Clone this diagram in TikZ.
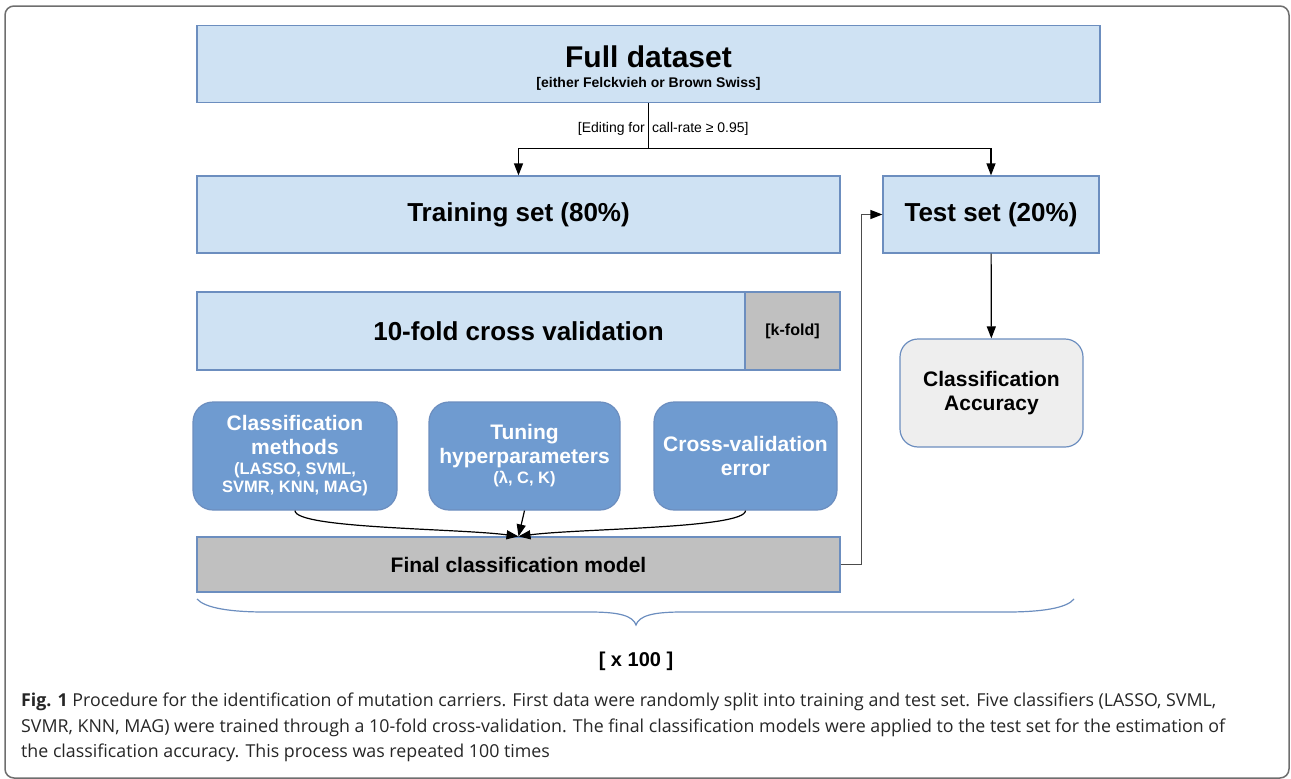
\documentclass[tikz,border=0pt]{standalone}
\usepackage{fontspec}
\setmainfont{Liberation Sans}
\newfontfamily\capfont{Open Sans}
\usetikzlibrary{positioning,arrows.meta}

\definecolor{boxblue}{HTML}{CFE2F3}
\definecolor{edgeblue}{HTML}{6C8EBF}
\definecolor{midblue}{HTML}{6F9BD0}
\definecolor{boxgray}{HTML}{C0C0C0}
\definecolor{accgray}{HTML}{EEEEEE}
\definecolor{framegray}{HTML}{6E6E6E}
\newcommand{\fsz}[2]{\fontsize{#1}{#2}\selectfont}

\begin{document}
\begin{tikzpicture}[x=1pt,y=-1pt,
  box/.style={draw=edgeblue,fill=boxblue,line width=1.2pt,inner sep=0pt,align=center,font=\bfseries\fsz{26}{30}},
  method/.style={draw=edgeblue,fill=midblue,rounded corners=20pt,line width=1.2pt,minimum height=108pt,inner sep=0pt,align=center,text=white,font=\bfseries\fsz{21}{24}},
  line/.style={line width=1.2pt,->,>={Triangle[length=12pt,width=9pt]}},
  captext/.style={anchor=base west,inner sep=0pt,font=\capfont\fsz{17.8}{20},text=black!85}]
\useasboundingbox (0,0) rectangle (1291,779);
\draw[framegray,line width=1.5pt,rounded corners=9pt] (5,6) rectangle (1289,778);

% boxes
\node[box,minimum width=903pt,minimum height=77pt] (full) at (648.5,64) {};
\node[anchor=base,font=\bfseries\fsz{30}{30}] (fulltitle) at (648.5,67) {Full dataset};
\node[anchor=base,font=\bfseries\fsz{14}{14}] (fullsub) at (648.5,87) {[either Felckvieh or Brown Swiss]};
\node[box,minimum width=643pt,minimum height=77pt] (train) at (518.5,214.5) {Training set (80\%)};
\node[box,minimum width=216pt,minimum height=77pt] (test) at (991,214.5) {Test set (20\%)};
\node[box,minimum width=643pt,minimum height=78pt] (cv) at (518.5,331) {10-fold cross validation};
\node[box,fill=boxgray,minimum width=95pt,minimum height=78pt,font=\bfseries\fsz{16}{16}] (kfold) at (792.5,331) {[k-fold]};
\node[method,minimum width=204pt] (methods) at (295,456) {Classification\\methods\\[-4pt]\fsz{16.5}{18}(LASSO, SVML,\\[-6pt]\fsz{16.5}{18}SVMR, KNN, MAG)};
\node[method,minimum width=191pt] (tuning) at (524.5,456) {Tuning\\hyperparameters\\[-4pt]\fsz{16.5}{18}(λ, C, K)};
\node[method,minimum width=183pt] (cverr) at (745.5,456) {Cross-validation\\error};
\node[box,fill=boxgray,minimum width=643pt,minimum height=55pt,font=\bfseries\fsz{21}{24}] (final) at (518.5,564.5) {Final classification model};
\node[box,fill=accgray,rounded corners=18pt,minimum width=183pt,minimum height=108pt,font=\bfseries\fsz{21}{24}] (acc) at (991.5,393) {Classification\\Accuracy};

% split
\draw[line] (full.south) -- ++(0,45) -| (train.north);
\draw[line] (full.south) -- ++(0,45) -| (test.north);
\node[anchor=base east,inner sep=0pt,font=\fsz{14}{14}] (edit) at (645,132) {[Editing for};
\node[anchor=base west,inner sep=0pt,font=\fsz{14}{14}] (rate) at (652,132) {call-rate ≥ 0.95]};

% model building
\draw[line] (methods.south) .. controls +(0,18) and +(-60,-8) .. (final.north);
\draw[line] (tuning.south) -- (final.north);
\draw[line] (cverr.south) .. controls +(0,18) and +(60,-8) .. (final.north);
\draw[line,draw=black!70,>={Triangle[length=12pt,width=9pt,color=black]}] (final.east) -- ++(21,0) |- (test.west);
\draw[line] (test) -- (acc);

% repetition
\draw[edgeblue,line width=1.2pt] (197,599) .. controls (205,608) and (230,612) .. (265,612) -- (590,612)
  .. controls (620,612) and (633,616) .. (636,625) .. controls (639,616) and (652,612) .. (682,612)
  -- (1007,612) .. controls (1042,612) and (1067,608) .. (1074,599);
\node[font=\bfseries\fsz{20}{20}] (times) at (636,661) {[ x 100 ]};

% caption
\node[captext] (cap1) at (21,706) {\textbf{Fig. 1} Procedure for the identification of mutation carriers. First data were randomly split into training and test set. Five classifiers (LASSO, SVML,};
\node[captext] (cap2) at (21,732) {SVMR, KNN, MAG) were trained through a 10-fold cross-validation. The final classification models were applied to the test set for the estimation of};
\node[captext] (cap3) at (21,757) {the classification accuracy. This process was repeated 100 times};
\end{tikzpicture}
\end{document}
